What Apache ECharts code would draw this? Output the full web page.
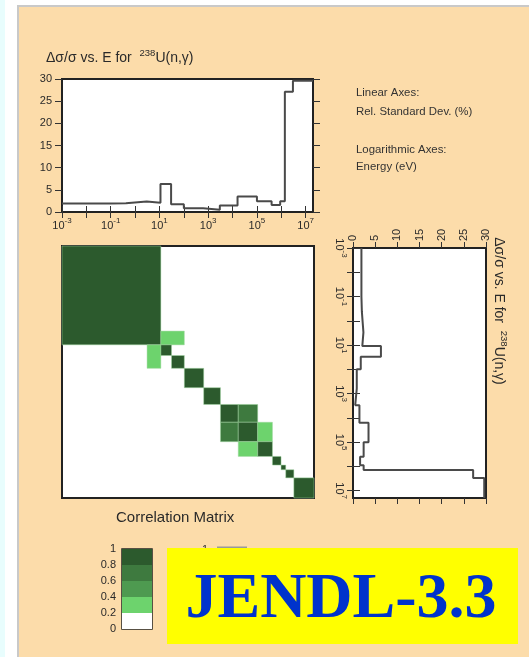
<!DOCTYPE html>
<html><head><meta charset="utf-8">
<script src="https://cdn.jsdelivr.net/npm/echarts@6/dist/echarts.min.js"></script>
<style>
html,body{margin:0;padding:0;width:529px;height:657px;overflow:hidden;background:#fff;}
#strip{position:absolute;left:0;top:0;width:5px;height:657px;background:#e8fdfd;}
#panel{position:absolute;left:17px;top:5px;width:600px;height:700px;background:#fcdcaa;border-left:2px solid #c9c9c9;border-top:2px solid #c9c9c9;}
#chart{position:absolute;left:0;top:0;width:529px;height:657px;}
</style></head><body>
<div id="strip"></div><div id="panel"></div><div id="chart"></div>
<script>
// ---- data ----
const energyBounds = [1e-3, 0.1, 0.42, 3, 11, 30, 100, 620, 3000, 16000, 1e5, 4e5, 9e5, 1.4e6, 3e6, 2e7];
const relStdDev    = [1.9, 2.0, 2.35, 2.1, 6.3, 1.75, 0.85, 0.5, 1.45, 3.5, 2.4, 1.6, 2.4, 27.1, 29.6];
const decadeTicks  = [1e-3, 1e-2, 1e-1, 1, 10, 100, 1e3, 1e4, 1e5, 1e6, 1e7];
const corrXLo  = [1e-3, 11, 3, 11, 30, 100, 620, 3000, 16000, 3000, 16000, 1e5, 16000, 1e5, 4e5, 9e5, 1.4e6, 3e6];
const corrXHi  = [11, 100, 11, 30, 100, 620, 3000, 16000, 1e5, 16000, 1e5, 4e5, 1e5, 4e5, 9e5, 1.4e6, 3e6, 2e7];
const corrYLo  = [1e-3, 3, 11, 11, 30, 100, 620, 3000, 3000, 16000, 16000, 16000, 1e5, 1e5, 4e5, 9e5, 1.4e6, 3e6];
const corrYHi  = [11, 11, 100, 30, 100, 620, 3000, 16000, 16000, 1e5, 1e5, 1e5, 4e5, 4e5, 9e5, 1.4e6, 3e6, 2e7];
const corrVal  = [1, 0.3, 0.3, 1, 1, 1, 1, 1, 0.7, 0.7, 1, 0.3, 0.3, 1, 1, 1, 1, 1];
const legendLevels = [0, 0.2, 0.4, 0.6, 0.8, 1];

// ---- styles ----
const palette = ['#ffffff', '#6dd36d', '#4e9a50', '#3e7a3f', '#2c5a2d'];
function colorFor(v){ let i = Math.floor(v / 0.2 + 1e-9); if (i > 4) i = 4; if (i < 0) i = 0; return palette[i]; }
const FONT = 'Liberation Sans';
const TXT = '#2a2a2a';
const richSup = {
  b: {fontSize: 11, fontFamily: FONT, color: TXT, lineHeight: 14, verticalAlign: 'bottom'},
  s: {fontSize: 8, fontFamily: FONT, color: TXT, lineHeight: 8, verticalAlign: 'top'}
};
function decadeLabel(v){
  const l = Math.log10(v), e = Math.round(l);
  if (Math.abs(l - e) > 1e-6) return '';
  if (((e % 2) + 2) % 2 !== 1) return '';
  return '{b|10}{s|' + e + '}';
}
const tick = {show: true, inside: false, length: 6, lineStyle: {color: '#333', width: 1}};
const logTick = Object.assign({}, tick, {customValues: decadeTicks});
const Emin = energyBounds[0], Emax = energyBounds[energyBounds.length - 1];

const topStep = energyBounds.map((b, i) => [b, relStdDev[Math.min(i, relStdDev.length - 1)]]);
const sideStep = energyBounds.map((b, i) => [relStdDev[Math.min(i, relStdDev.length - 1)], b]);
const corrData = corrVal.map((v, i) => [corrXLo[i], corrXHi[i], corrYLo[i], corrYHi[i], v]);
const legendData = legendLevels.slice(0, -1).map((lo, i) => [0, 1, lo, legendLevels[i + 1]]);

function logAxis(extra){
  return Object.assign({type: 'log', logBase: 10, min: Emin, max: Emax, interval: 1,
    axisLine: {show: false}, splitLine: {show: false}, minorTick: {show: false}, axisTick: logTick}, extra);
}
function valAxis(extra){
  return Object.assign({type: 'value', min: 0, max: 30, interval: 5,
    axisLine: {show: false}, splitLine: {show: false}, axisTick: tick}, extra);
}

const chart = echarts.init(document.getElementById('chart'), null, {renderer: 'canvas'});
const frame = {show: true, backgroundColor: '#ffffff', borderColor: '#222', borderWidth: 2, containLabel: false};
const titleRich = {a: {fontSize: 14, fontFamily: FONT, fill: TXT, lineHeight: 17, verticalAlign: 'bottom'},
                   s: {fontSize: 9.5, fontFamily: FONT, fill: TXT, lineHeight: 9, verticalAlign: 'top'}};
const infoFont = '11.4px ' + FONT;

chart.setOption({
  backgroundColor: 'transparent',
  animation: false,
  grid: [
    Object.assign({left: 62, top: 79, width: 251, height: 133}, frame),
    Object.assign({left: 353, top: 248, width: 133, height: 250}, frame),
    Object.assign({left: 62, top: 246, width: 252, height: 252}, frame),
    {show: true, left: 122, top: 549, width: 30, height: 80, backgroundColor: 'transparent', borderColor: '#222', borderWidth: 1.5}
  ],
  xAxis: [
    logAxis({gridIndex: 0, position: 'bottom', axisLabel: {formatter: decadeLabel, rich: richSup, margin: 5, customValues: decadeTicks}}),
    logAxis({gridIndex: 0, position: 'top', axisLabel: {show: false}}),
    valAxis({gridIndex: 1, position: 'top', axisLabel: {rotate: -90, margin: 7, fontSize: 11, fontFamily: FONT, color: TXT}}),
    valAxis({gridIndex: 1, position: 'bottom', axisLabel: {show: false}}),
    logAxis({gridIndex: 2, show: false}),
    {type: 'value', gridIndex: 3, min: 0, max: 1, show: false}
  ],
  yAxis: [
    valAxis({gridIndex: 0, position: 'left', axisTick: Object.assign({}, tick, {length: 7}), axisLabel: {margin: 10, fontSize: 11, fontFamily: FONT, color: TXT}}),
    valAxis({gridIndex: 0, position: 'right', axisTick: Object.assign({}, tick, {length: 7}), axisLabel: {show: false}}),
    logAxis({gridIndex: 1, inverse: true, position: 'left', axisLabel: {formatter: decadeLabel, rich: richSup, rotate: -90, margin: 5, customValues: decadeTicks}}),
    logAxis({gridIndex: 1, inverse: true, position: 'right', axisTick: Object.assign({}, logTick, {length: 7}), axisLabel: {show: false}}),
    logAxis({gridIndex: 2, inverse: true, show: false}),
    {type: 'value', gridIndex: 3, min: 0, max: 1, interval: 0.2, position: 'left',
      axisLine: {show: false}, axisTick: {show: false}, splitLine: {show: false},
      axisLabel: {margin: 6, fontSize: 11, fontFamily: FONT, color: TXT,
        formatter: v => (v === 0 || v === 1) ? String(v) : v.toFixed(1)}}
  ],
  series: [
    {type: 'line', xAxisIndex: 0, yAxisIndex: 0, step: 'end', symbol: 'none', data: topStep,
      lineStyle: {color: '#4a4a4a', width: 2}},
    {type: 'line', xAxisIndex: 2, yAxisIndex: 2, step: 'start', symbol: 'none', data: sideStep,
      lineStyle: {color: '#4a4a4a', width: 2}},
    {type: 'custom', xAxisIndex: 4, yAxisIndex: 4, data: corrData, encode: {x: [0, 1], y: [2, 3]},
      renderItem: function(params, api){
        const p0 = api.coord([api.value(0), api.value(2)]);
        const p1 = api.coord([api.value(1), api.value(3)]);
        return {type: 'rect', shape: {x: Math.min(p0[0], p1[0]), y: Math.min(p0[1], p1[1]),
          width: Math.abs(p1[0] - p0[0]), height: Math.abs(p1[1] - p0[1])},
          style: {fill: colorFor(api.value(4)), stroke: 'rgba(160,215,160,0.6)', lineWidth: 0.8}};
      }},
    {type: 'custom', xAxisIndex: 5, yAxisIndex: 5, data: legendData, encode: {x: [0, 1], y: [2, 3]},
      renderItem: function(params, api){
        const p0 = api.coord([api.value(0), api.value(2)]);
        const p1 = api.coord([api.value(1), api.value(3)]);
        return {type: 'rect', shape: {x: Math.min(p0[0], p1[0]), y: Math.min(p0[1], p1[1]),
          width: Math.abs(p1[0] - p0[0]), height: Math.abs(p1[1] - p0[1])},
          style: {fill: colorFor((api.value(2) + api.value(3)) / 2)}};
      }}
  ],
  graphic: [
    {type: 'text', x: 46, y: 57, z: 5, style: {text: '{a|Δσ/σ vs. E for  }{s|238}{a|U(n,γ)}', verticalAlign: 'middle', align: 'left', rich: titleRich}},
    {type: 'text', x: 500, y: 311, z: 5, rotation: -Math.PI / 2, style: {text: '{a|Δσ/σ vs. E for  }{s|238}{a|U(n,γ)}', verticalAlign: 'middle', align: 'center', rich: titleRich}},
    {type: 'text', x: 356, y: 93, z: 5, style: {text: 'Linear Axes:', font: infoFont, fill: '#333', verticalAlign: 'middle'}},
    {type: 'text', x: 356, y: 112, z: 5, style: {text: 'Rel. Standard Dev. (%)', font: infoFont, fill: '#333', verticalAlign: 'middle'}},
    {type: 'text', x: 356, y: 149.5, z: 5, style: {text: 'Logarithmic Axes:', font: infoFont, fill: '#333', verticalAlign: 'middle'}},
    {type: 'text', x: 356, y: 167, z: 5, style: {text: 'Energy (eV)', font: infoFont, fill: '#333', verticalAlign: 'middle'}},
    {type: 'text', x: 116, y: 518, z: 5, style: {text: 'Correlation Matrix', font: '15px ' + FONT, fill: '#2a2a2a', verticalAlign: 'middle'}},
    {type: 'text', x: 205, y: 550, z: 5, style: {text: '1', font: '11px ' + FONT, fill: '#333', verticalAlign: 'middle', align: 'center'}},
    {type: 'line', z: 5, shape: {x1: 217, y1: 547.5, x2: 247, y2: 547.5}, style: {stroke: '#999', lineWidth: 2}},
    {type: 'rect', z: 20, shape: {x: 167, y: 548, width: 351, height: 96}, style: {fill: '#ffff00'}},
    {type: 'text', x: 341, y: 600, z: 21, style: {text: 'JENDL-3.3', font: 'bold 64px "Liberation Serif"', fill: '#0033cc', align: 'center', verticalAlign: 'middle'}}
  ]
});
</script>
</body></html>
